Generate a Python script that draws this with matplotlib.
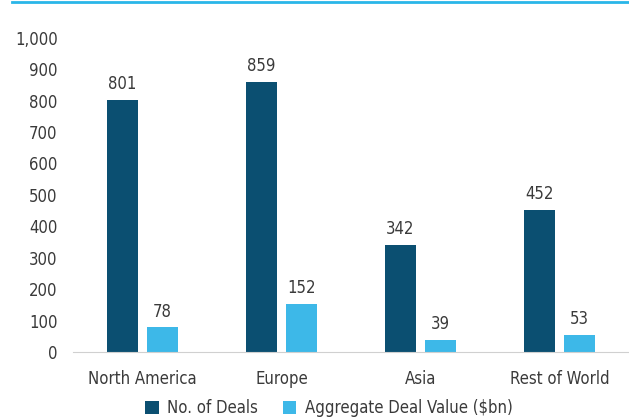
import matplotlib
matplotlib.use("Agg")
import matplotlib.pyplot as plt
import numpy as np
from matplotlib.lines import Line2D

regions = ["North America", "Europe", "Asia", "Rest of World"]
deals = [801, 859, 342, 452]
deal_value = [78, 152, 39, 53]
series_names = ["No. of Deals", "Aggregate Deal Value ($bn)"]

dark = "#0b4f71"
light = "#3db8e8"
text_col = "#3a3a3a"

plt.rcParams["font.family"] = ["DejaVu Sans"]
plt.rcParams["font.stretch"] = "condensed"

fig = plt.figure(figsize=(6.29, 4.2), dpi=100)
ax = fig.add_axes([0.116, 0.162, 0.884, 0.748])

x = np.arange(len(regions))
w = 0.223
off = 0.144
b1 = ax.bar(x - off, deals, w, color=dark, label=series_names[0])
b2 = ax.bar(x + off, deal_value, w, color=light, label=series_names[1])

for rects, vals in ((b1, deals), (b2, deal_value)):
    for r, v in zip(rects, vals):
        ax.annotate(str(v), (r.get_x() + r.get_width() / 2, v),
                    xytext=(0, 5), textcoords="offset points",
                    ha="center", va="bottom", fontsize=12, color=text_col)

ax.set_xlim(-0.5, 3.5)
ax.set_ylim(0, 1000)
ax.set_yticks(range(0, 1001, 100))
ax.set_yticklabels([f"{t:,}" for t in range(0, 1001, 100)])
ax.set_xticks(x)
ax.set_xticklabels(regions)
ax.tick_params(axis="both", length=0, labelsize=12, colors=text_col)
ax.tick_params(axis="x", pad=13)
ax.tick_params(axis="y", pad=11)
for s in ["top", "right", "left"]:
    ax.spines[s].set_visible(False)
ax.spines["bottom"].set_color("#d0d0d0")

fig.legend(handles=[b1, b2], loc="center", bbox_to_anchor=(0.523, 0.028),
           ncol=2, frameon=False, fontsize=12, handlelength=0.8,
           handleheight=0.8, columnspacing=1.5, handletextpad=0.5,
           labelcolor=text_col)

fig.add_artist(Line2D([12 / 629, 1.0], [0.995, 0.995], color="#29b6e8",
                      linewidth=2, transform=fig.transFigure))

fig.savefig("out.png", dpi=100)
